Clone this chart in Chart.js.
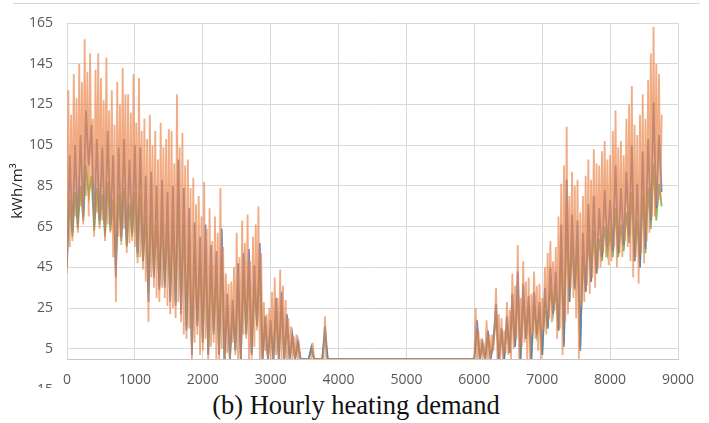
<!DOCTYPE html>
<html lang="en">
<head>
    <meta charset="UTF-8">
    <title>Hourly heating demand</title>
    <script src="https://cdn.jsdelivr.net/npm/chart.js"></script>
    <style>
        body { margin: 0; background: #fff; }
        #wrap { position: relative; width: 709px; height: 423px; }
        #topline { position: absolute; left: 13px; top: 3px; width: 687px; border-top: 1px solid #d6d6d6; }
        #caption { position: absolute; left: 0; top: 388px; width: 709px; height: 35px; background: #fff;
                   font-family: "Liberation Serif", "Times New Roman", serif; font-size: 26.5px; color: #111;
                   text-align: center; line-height: 35px; padding-left: 3px; box-sizing: border-box; }
    </style>
</head>
<body>
<div id="wrap">
    <canvas id="heatChart" width="709" height="423"></canvas>
    <div id="topline"></div>
    <div id="caption">(b) Hourly heating demand</div>
</div>
<script>
    const yTicks = [-15, 5, 25, 45, 65, 85, 105, 125, 145, 165];

    // orange: sampled every 20 h, 0 .. 8760
    const orangeStep = 20;
    const orange = [
        42, 132, 55, 120, 58, 140, 70, 128, 62, 145, 75, 136, 66, 157, 80, 141,
        70, 150, 85, 118, 60, 142, 72, 150, 64, 138, 68, 127, 58, 148, 66, 122,
        62, 132, 50, 115, 28, 136, 60, 125, 56, 143, 64, 130, 52, 130, 57, 121,
        58, 140, 55, 116, 47, 138, 50, 112, 44, 118, 38, 108, 18, 120, 40, 105,
        35, 112, 30, 98, 28, 116, 35, 104, 30, 108, 26, 113, 22, 112, 25, 96,
        20, 130, 28, 104, 18, 111, 12, 95, 10, 98, 15, 84, 0, 89, 8, 76,
        12, 80, 2, 70, 4, 87, 10, 64, 0, 74, 6, 58, 8, 70, 0, 62,
        0, 84, 5, 55, 0, 42, 3, 37, 0, 38, 8, 45, 2, 62, 0, 50,
        0, 68, 12, 57, 10, 71, 0, 48, 0, 60, 6, 66, 14, 75, 0, 52,
        0, 28, 4, 22, 0, 25, 0, 33, 0, 40, 2, 30, 0, 44, 0, 36,
        0, 29, 0, 20, 0, 16, 0, 11, 0, 12, 0, 6,
        0, 0, 0, 0, 0, 0, 0, 0, 0, 8, 0, 0, 0, 0, 0, 0,
        0, 0, 21, 0, 0, 0, 0, 0, 0, 0, 0, 0, 0, 0, 0, 0,
        0, 0, 0, 0, 0, 0, 0, 0, 0, 0, 0, 0, 0, 0, 0, 0,
        0, 0, 0, 0, 0, 0, 0, 0, 0, 0, 0, 0, 0, 0, 0, 0,
        0, 0, 0, 0, 0, 0, 0, 0, 0, 0, 0, 0, 0, 0, 0, 0,
        0, 0, 0, 0, 0, 0, 0, 0, 0, 0, 0, 0, 0, 0, 0, 0,
        0, 0, 0, 0, 0, 0, 0, 0, 0, 0, 0, 0, 0, 0, 0, 0,
        0, 0, 0, 0, 0, 0, 0, 0, 0, 0, 0, 0, 0, 0, 0, 0,
        0, 25, 0, 14, 0, 10, 0, 6, 0, 19, 0, 12, 0, 12, 4, 16,
        35, 0, 22, 0, 20, 0, 14, 3, 28, 2, 24, 0, 42, 5, 36, 10,
        56, 0, 30, 6, 48, 8, 38, 0, 40, 0, 32, 12, 43, 10, 36, 4,
        37, 0, 30, 14, 45, 12, 52, 20, 58, 18, 48, 24, 55, 10, 70, 15,
        86, 2, 95, 18, 114, 22, 80, 35, 92, 30, 85, 20, 88, 0, 72, 26,
        80, 28, 90, 36, 98, 32, 88, 40, 103, 35, 96, 44, 95, 45, 102, 52,
        107, 50, 98, 46, 100, 48, 112, 55, 122, 45, 104, 52, 107, 50, 100, 58,
        118, 55, 125, 48, 134, 40, 115, 50, 110, 37, 120, 52, 130, 47, 118, 58,
        137, 62, 150, 70, 163, 70, 145, 75, 140, 78, 120
    ];

    // blue and green: sampled every 40 h, 0 .. 8760
    const lowStep = 40;
    const blue = [
        45, 100, 62, 105, 66, 110, 70, 122, 95, 115,
        65, 108, 68, 104, 62, 112, 66, 100, 40, 104,
        60, 108, 56, 98, 62, 105, 52, 104, 48, 90,
        28, 92, 40, 85, 34, 88, 35, 82, 28, 85,
        26, 98, 22, 84, 14, 74, 2, 67, 16, 60,
        8, 66, 2, 56, 12, 53, 2, 64, 0, 32,
        0, 29, 4, 47, 0, 52, 12, 54, 2, 46,
        16, 57, 0, 21, 0, 19, 0, 30, 0, 33,
        0, 22, 0, 12, 0, 9, 0, 0, 0, 0,
        6, 0, 0, 0, 0, 16, 0, 0, 0, 0,
        0, 0, 0, 0, 0, 0, 0, 0, 0, 0,
        0, 0, 0, 0, 0, 0, 0, 0, 0, 0,
        0, 0, 0, 0, 0, 0, 0, 0, 0, 0,
        0, 0, 0, 0, 0, 0, 0, 0, 0, 0,
        0, 0, 0, 0, 0, 0, 0, 0, 0, 0,
        0, 19, 0, 8, 0, 14, 0, 9, 27, 0,
        15, 0, 21, 3, 32, 6, 43, 0, 37, 10,
        31, 0, 33, 12, 28, 2, 35, 15, 45, 22,
        43, 14, 66, 6, 88, 28, 71, 35, 68, 4,
        62, 33, 76, 38, 80, 42, 74, 50, 83, 55,
        78, 53, 95, 52, 84, 56, 92, 60, 105, 48,
        86, 45, 102, 54, 108, 68, 126, 74, 110, 82
    ];

    const green = [
        50, 78, 60, 82, 64, 85, 68, 95, 80, 90,
        63, 84, 66, 81, 60, 87, 63, 78, 45, 81,
        58, 84, 55, 76, 60, 82, 50, 81, 48, 70,
        32, 72, 42, 66, 36, 68, 37, 64, 30, 66,
        28, 76, 25, 65, 16, 58, 4, 52, 18, 47,
        10, 51, 3, 44, 14, 41, 3, 50, 0, 25,
        0, 23, 5, 37, 0, 40, 13, 42, 3, 36,
        17, 44, 0, 17, 0, 15, 0, 24, 0, 26,
        0, 17, 0, 10, 0, 7, 0, 0, 0, 0,
        5, 0, 0, 0, 0, 12, 0, 0, 0, 0,
        0, 0, 0, 0, 0, 0, 0, 0, 0, 0,
        0, 0, 0, 0, 0, 0, 0, 0, 0, 0,
        0, 0, 0, 0, 0, 0, 0, 0, 0, 0,
        0, 0, 0, 0, 0, 0, 0, 0, 0, 0,
        0, 0, 0, 0, 0, 0, 0, 0, 0, 0,
        0, 15, 0, 6, 0, 11, 0, 7, 21, 0,
        12, 0, 17, 3, 25, 6, 34, 0, 29, 10,
        25, 0, 26, 12, 22, 2, 28, 15, 35, 22,
        34, 14, 52, 8, 68, 28, 56, 34, 54, 6,
        50, 33, 60, 38, 63, 42, 59, 48, 65, 52,
        62, 50, 74, 50, 66, 53, 72, 57, 82, 48,
        68, 45, 80, 52, 84, 64, 96, 68, 86, 75
    ];

    function toPoints(values, step) {
        return values.map((v, i) => ({ x: i * step, y: v }));
    }

    const tickFont = { family: "'Open Sans', sans-serif", size: 14 };

    new Chart(document.getElementById("heatChart"), {
        type: "line",
        data: {
            datasets: [
                { data: toPoints(orange, orangeStep), borderColor: "rgba(235,132,72,0.68)", borderWidth: 1.8 },
                { data: toPoints(blue, lowStep), borderColor: "rgba(88,122,192,0.85)", borderWidth: 1.8 },
                { data: toPoints(green, lowStep), borderColor: "rgba(118,180,76,0.9)", borderWidth: 1.8 }
            ]
        },
        options: {
            responsive: false,
            animation: false,
            elements: { point: { radius: 0 }, line: { tension: 0, borderJoinStyle: "miter" } },
            layout: { padding: { top: 23, right: 31, left: 0, bottom: 0 } },
            plugins: { legend: { display: false }, tooltip: { enabled: false } },
            scales: {
                x: {
                    type: "linear",
                    min: 0,
                    max: 9000,
                    ticks: { stepSize: 1000, color: "#595959", font: tickFont, padding: 13,
                             callback: v => String(v) },
                    grid: { color: "#d9d9d9", drawTicks: false },
                    border: { color: "#c8c8c8" },
                    afterFit: s => { s.height = 64; }
                },
                y: {
                    min: 0,
                    max: 165,
                    afterBuildTicks: s => { s.ticks = yTicks.map(v => ({ value: v })); },
                    ticks: { color: "#595959", font: tickFont, padding: 14 },
                    grid: { color: "#d9d9d9", drawTicks: false },
                    border: { display: false },
                    title: { display: true, text: "kWh/m³", color: "#222",
                             font: { family: "'Open Sans', sans-serif", size: 15 },
                             padding: { top: 9, bottom: 0 } },
                    afterFit: s => { s.width = 67; }
                }
            }
        }
    });
</script>
</body>
</html>
